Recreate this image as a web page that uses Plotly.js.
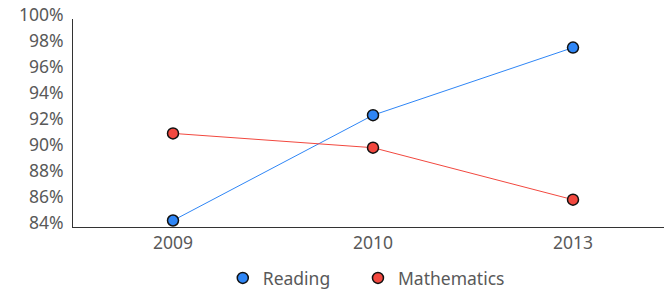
<!DOCTYPE html>
<html>
<head>
<meta charset="utf-8">
<script src="https://cdn.plot.ly/plotly-3.0.1.min.js"></script>
<style>html,body{margin:0;padding:0;background:#fff;}#chart{width:664px;height:293px;}</style>
</head>
<body>
<div id="chart"></div>
<script>
const years = ['2009', '2010', '2013'];
const reading = [84.5, 92.6, 97.8];
const mathematics = [91.2, 90.1, 86.1];
const yTicks = [84, 86, 88, 90, 92, 94, 96, 98, 100];
const yTickLabels = yTicks.map(v => v + '%');
const seriesNames = ['Reading', 'Mathematics'];

const font = {family: 'Noto Sans, Open Sans, sans-serif', size: 17.5, color: '#595959'};
const pad = '\u00a0\u00a0\u00a0\u00a0\u00a0';

const traces = [
  {x: years, y: reading, name: seriesNames[0], type: 'scatter', mode: 'lines+markers',
   line: {color: '#2F86F6', width: 1}, marker: {color: '#2F86F6', size: 11, line: {color: '#111', width: 1.5}},
   showlegend: false},
  {x: years, y: mathematics, name: seriesNames[1], type: 'scatter', mode: 'lines+markers',
   line: {color: '#F2483F', width: 1}, marker: {color: '#F2483F', size: 11, line: {color: '#111', width: 1.5}},
   showlegend: false},
  {x: [null], y: [null], name: seriesNames[0] + pad, type: 'scatter', mode: 'markers',
   marker: {color: '#2F86F6', size: 11, line: {color: '#111', width: 1.5}}},
  {x: [null], y: [null], name: seriesNames[1], type: 'scatter', mode: 'markers',
   marker: {color: '#F2483F', size: 11, line: {color: '#111', width: 1.5}}}
];

const layout = {
  width: 664, height: 293,
  margin: {l: 73, r: 0, t: 19, b: 66},
  paper_bgcolor: '#fff', plot_bgcolor: '#fff',
  font: font,
  xaxis: {type: 'category', range: [-0.5, 2.455], showline: true, linecolor: '#333', linewidth: 1,
          showgrid: false, zeroline: false, ticks: '', tickfont: font, ticklabelstandoff: 0},
  yaxis: {range: [84, 100], tickvals: yTicks, ticktext: yTickLabels, showline: true, linecolor: '#333',
          linewidth: 1, showgrid: false, zeroline: false, ticks: '', tickfont: font,
          ticklabelshift: -4, ticklabelstandoff: 5},
  showlegend: true,
  legend: {orientation: 'h', x: 0.3355, xanchor: 'left', xref: 'container', yref: 'container',
           y: 0.051, yanchor: 'middle',
           font: font, itemwidth: 30, traceorder: 'normal'}
};

Plotly.newPlot('chart', traces, layout, {displayModeBar: false, staticPlot: true});
</script>
</body>
</html>
